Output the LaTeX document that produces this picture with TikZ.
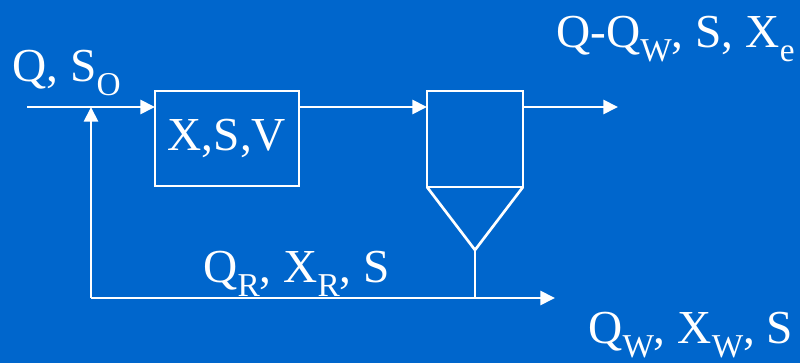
\documentclass[tikz,border=0pt]{standalone}
\usepackage{fontspec}
\setmainfont{Liberation Serif}
\usetikzlibrary{arrows.meta}
\definecolor{bg}{HTML}{0066CC}
\newcommand\sbs[1]{\raisebox{-0.28em}[\height][0pt]{\fontsize{25}{25}\selectfont #1}}
\begin{document}
\begin{tikzpicture}[x=0.75pt,y=-0.75pt,
  line width=2pt,
  unit/.style={draw=white, inner sep=0pt, outer sep=0pt},
  arr/.style={draw=white, -{Triangle[length=11pt,width=10.5pt]}},
  pipe/.style={draw=white},
  lbl/.style={text=white, inner sep=0pt, font=\fontsize{35.5}{40}\selectfont}]
\fill[bg] (0,0) rectangle (800,363);
\useasboundingbox (0,0) rectangle (800,363);
% units
\node[unit, minimum width=108pt, minimum height=71.25pt] (reactor) at (227,138.5) {};
\node[lbl] (rtext) at (reactor.center) {X,S,V};
\node[unit, minimum width=72pt, minimum height=72pt] (settler) at (475,139) {};
\coordinate (apex) at (475,250);
\draw[pipe] (settler.south west) -- (apex) -- (settler.south east);
% coordinates
\coordinate (in) at (27,107);
\coordinate (eff) at (618,107);
\coordinate (rc) at (91,298);
\coordinate (wout) at (555,298);
% connectors
\draw[arr] (in) -- (in -| reactor.west);
\draw[arr] (reactor.east |- in) -- (in -| settler.west);
\draw[arr] (settler.east |- eff) -- (eff);
\draw[pipe] (apex) -- (apex |- wout);
\draw[arr] (rc) -- (wout);
\draw[arr] (rc) -- (rc |- in);
% labels
\node[lbl, anchor=base west] (lin) at (11,82) {Q, S\sbs{O}};
\node[lbl, anchor=base west] (leff) at (555,48) {Q-Q\sbs{W}, S, X\sbs{e}};
\node[lbl, anchor=base west] (lrec) at (202,283) {Q\sbs{R}, X\sbs{R}, S};
\node[lbl, anchor=base west] (lw) at (587,344) {Q\sbs{W}, X\sbs{W}, S};
\end{tikzpicture}
\end{document}
